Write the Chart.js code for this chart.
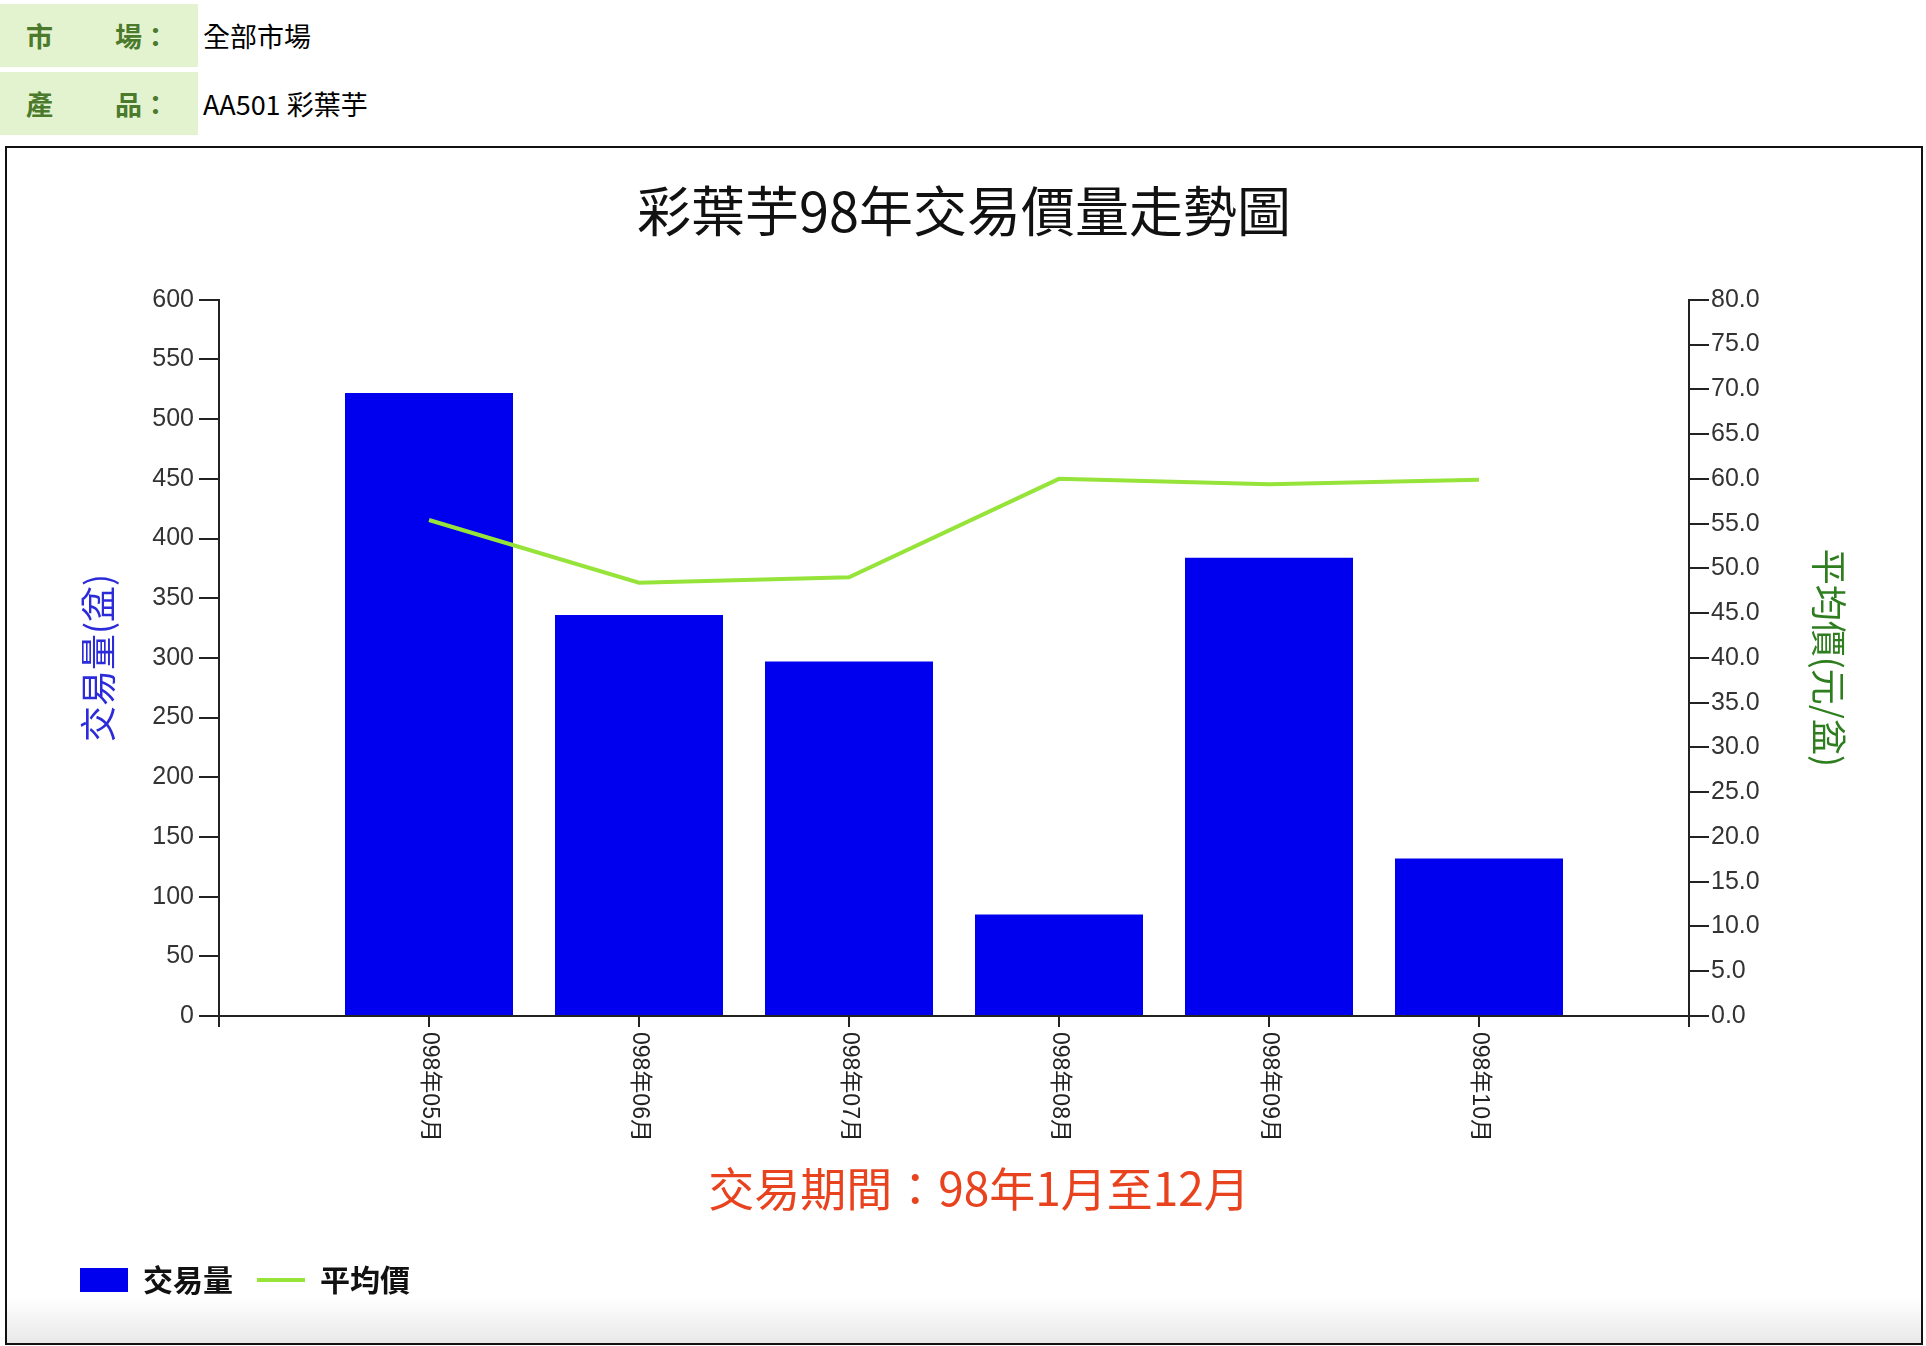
<!DOCTYPE html>
<html>
<head>
<meta charset="utf-8">
<script src="https://cdn.jsdelivr.net/npm/chart.js@4"></script>
<style>
  body { margin: 0; background: #fff; font-family: "Noto Sans CJK TC", sans-serif; }
  .row { position: absolute; left: 0; height: 63px; width: 600px; }
  .lab { position: absolute; left: 0; top: 0; width: 198px; height: 63px; background: #e3f3d0;
         color: #4b7a2c; font-weight: bold; font-size: 27px; line-height: 63px; }
  .lab span { position: absolute; top: 0; }
  .val { position: absolute; left: 203px; top: 0; height: 63px; line-height: 63px; font-size: 27px; color: #000; }
  #box { position: absolute; left: 5px; top: 146px; width: 1918px; height: 1199px; box-sizing: border-box;
         border: 2px solid #111; background: linear-gradient(to bottom, #fff 0, #fff 1150px, #e8e8e8 100%); }
  #wrap { position: relative; width: 1914px; height: 1195px; }
</style>
</head>
<body>
<div class="row" style="top:4px"><div class="lab"><span style="left:26px">市</span><span style="left:115px">場：</span></div><div class="val">全部市場</div></div>
<div class="row" style="top:72px"><div class="lab"><span style="left:26px">產</span><span style="left:115px">品：</span></div><div class="val">AA501 彩葉芋</div></div>
<div id="box"><div id="wrap"><canvas id="myChart"></canvas></div></div>

<script>
// data
const months = ['098年05月', '098年06月', '098年07月', '098年08月', '098年09月', '098年10月'];
const volume = [522, 336, 297, 85, 384, 132];
const avgPrice = [55.4, 48.4, 49.0, 60.0, 59.4, 59.9];
const volMax = 600, volStep = 50;
const priceMax = 80, priceStep = 5;
const periodText = '交易期間：98年1月至12月';

// one empty slot at each end so the months sit on 1..6
const labels = [''].concat(months, ['']);
const volData = [null].concat(volume, [null]);
const priceData = [null].concat(avgPrice, [null]);

const tickFont = { family: '"Liberation Sans", Arial', size: 25 };

// x labels read top to bottom, so draw them ourselves; also the red period text
const xLabelPlugin = {
  id: 'xLabels',
  afterDraw(chart) {
    const ctx = chart.ctx;
    const xs = chart.scales.x;
    ctx.save();
    ctx.font = '23px "Liberation Sans", "Noto Sans CJK TC"';
    ctx.fillStyle = '#222';
    ctx.textAlign = 'left';
    ctx.textBaseline = 'middle';
    months.forEach(function (m, i) {
      const x = xs.getPixelForValue(i + 1);
      ctx.save();
      ctx.translate(x, xs.top + 16);
      ctx.rotate(Math.PI / 2);
      ctx.fillText(m, 0, 0);
      ctx.restore();
    });
    ctx.font = '46px "Noto Sans CJK TC"';
    ctx.fillStyle = '#e8431e';
    ctx.textAlign = 'center';
    ctx.fillText(periodText, chart.width / 2 + 15, xs.bottom - 52);
    ctx.restore();
  }
};

const ctx = document.getElementById('myChart');
new Chart(ctx, {
  data: {
    labels: labels,
    datasets: [{
      type: 'bar',
      label: '交易量',
      data: volData,
      backgroundColor: '#0000ee',
      borderWidth: 0,
      barPercentage: 1,
      categoryPercentage: 0.8,
      yAxisID: 'y',
      order: 2
    },
    {
      type: 'line',
      label: '平均價',
      data: priceData,
      borderColor: '#96e33a',
      backgroundColor: '#96e33a',
      borderWidth: 4,
      pointRadius: 0,
      tension: 0,
      yAxisID: 'y1',
      order: 1
    }]
  },
  options: {
    responsive: true,
    maintainAspectRatio: false,
    animation: false,
    layout: { padding: { left: 49, right: 49, top: 0, bottom: 38 } },
    scales: {
      x: {
        offset: false,
        border: { display: true, color: '#222', width: 2 },
        grid: { display: true, offset: false, drawOnChartArea: false, drawTicks: true, tickLength: 11, color: '#222', lineWidth: 2 },
        ticks: { display: false },
        afterFit: function (scale) { scale.height = 225; }
      },
      y: {
        position: 'left',
        min: 0,
        max: volMax,
        border: { display: true, color: '#222', width: 2 },
        grid: { display: true, drawOnChartArea: false, tickLength: 20, color: '#222', lineWidth: 2 },
        ticks: { stepSize: volStep, color: '#333', font: tickFont, padding: 5 },
        title: {
          display: true,
          text: '交易量(盆)',
          color: '#2b2bd9',
          font: { family: '"Noto Sans CJK TC"', size: 36 },
          padding: { top: 21, bottom: 0 }
        },
        afterFit: function (scale) { scale.width = 163; }
      },
      y1: {
        position: 'right',
        min: 0,
        max: priceMax,
        border: { display: true, color: '#222', width: 2 },
        grid: { display: true, drawOnChartArea: false, tickLength: 20, color: '#222', lineWidth: 2 },
        ticks: {
          stepSize: priceStep, color: '#333', font: tickFont, padding: 2,
          callback: function (v) { return v.toFixed(1); }
        },
        title: {
          display: true,
          text: '平均價(元/盆)',
          color: '#2e7d1e',
          font: { family: '"Noto Sans CJK TC"', size: 36 },
          padding: { top: 22, bottom: 0 }
        },
        afterFit: function (scale) { scale.width = 183; }
      }
    },
    plugins: {
      title: {
        display: true,
        text: '彩葉芋98年交易價量走勢圖',
        color: '#111',
        font: { family: '"Noto Sans CJK TC"', size: 54, weight: 'normal' },
        padding: { top: 31, bottom: 56 }
      },
      legend: {
        position: 'bottom',
        align: 'start',
        labels: {
          usePointStyle: true,
          pointStyleWidth: 48,
          boxHeight: 24,
          padding: 24,
          color: '#111',
          font: { family: '"Noto Sans CJK TC"', size: 30, weight: 'bold' },
          sort: function (a, b) { return a.datasetIndex - b.datasetIndex; },
          generateLabels: function (chart) {
            const items = Chart.defaults.plugins.legend.labels.generateLabels(chart);
            items.forEach(function (it) { it.pointStyle = it.datasetIndex === 0 ? 'rect' : 'line'; });
            return items;
          }
        }
      },
      tooltip: { enabled: false }
    }
  },
  plugins: [xLabelPlugin]
});
</script>
</body>
</html>
